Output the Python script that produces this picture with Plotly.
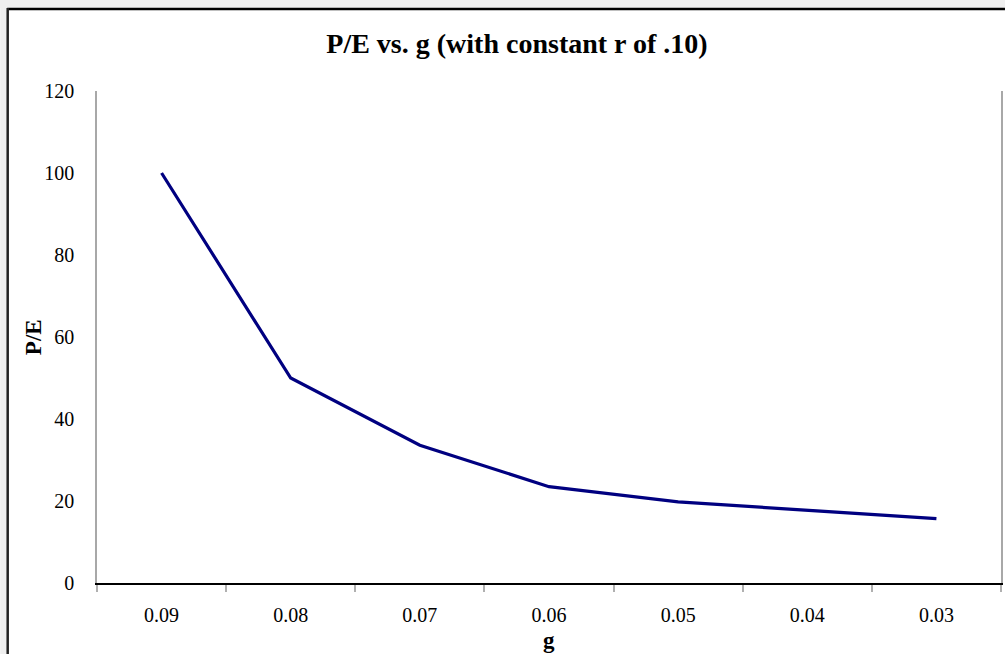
import plotly.graph_objects as go

# Data
g_labels = ["0.09", "0.08", "0.07", "0.06", "0.05", "0.04", "0.03"]
pe_values = [100, 50, 33.6, 23.5, 19.8, 17.7, 15.7]
y_ticks = [0, 20, 40, 60, 80, 100, 120]

W, H = 1007, 654
L, R, T, B = 97, 4, 91, 71
pw = W - L - R
ph = H - T - B

def px_x(px):
    return (px - L) / pw

def px_y(py):
    return (H - B - py) / ph

SERIF = "Liberation Serif, Times New Roman, serif"

fig = go.Figure()
fig.add_trace(go.Scatter(
    x=g_labels, y=pe_values, mode="lines",
    line=dict(color="#000080", width=3.2),
    showlegend=False, hoverinfo="x+y",
))

shapes = [
    # light gray window strips (top and left)
    dict(type="rect", xref="paper", yref="paper", x0=px_x(0), x1=px_x(W), y0=px_y(0), y1=px_y(8),
         fillcolor="#efefef", line=dict(width=0), layer="below"),
    dict(type="rect", xref="paper", yref="paper", x0=px_x(0), x1=px_x(7), y0=px_y(0), y1=px_y(H),
         fillcolor="#efefef", line=dict(width=0), layer="below"),
    # black chart-area border, top and left
    dict(type="line", xref="paper", yref="paper", x0=px_x(7), x1=px_x(W), y0=px_y(9), y1=px_y(9),
         line=dict(color="#000000", width=2.5), layer="below"),
    dict(type="line", xref="paper", yref="paper", x0=px_x(7.5), x1=px_x(7.5), y0=px_y(8), y1=px_y(H),
         line=dict(color="#222222", width=2.5), layer="below"),
]

fig.update_layout(
    width=W, height=H,
    margin=dict(l=L, r=R, t=T, b=B, pad=0),
    paper_bgcolor="white", plot_bgcolor="white",
    font=dict(family=SERIF, color="#000000", size=20),
    title=dict(
        text="<b>P/E vs. g (with constant r of .10)</b>",
        font=dict(family=SERIF, size=28, color="#000000"),
        x=517 / W, xref="container", xanchor="center",
        y=1 - 43 / H, yref="container", yanchor="middle",
    ),
    xaxis=dict(
        type="category", range=[-0.5, len(g_labels) - 0.5],
        showline=True, linecolor="#000000", linewidth=1.5,
        ticks="outside", tickson="boundaries", ticklen=7, tickcolor="#b0b0b0", tickwidth=1.5,
        showgrid=False, zeroline=False,
        tickfont=dict(family=SERIF, size=20),
        ticklabelstandoff=13,
    ),
    yaxis=dict(
        range=[0, 120], tickvals=y_ticks,
        showline=True, linecolor="#a8a8a8", linewidth=1.5, mirror=True,
        ticks="", showgrid=False, zeroline=False,
        tickfont=dict(family=SERIF, size=20),
        ticklabelstandoff=17,
    ),
    shapes=shapes,
    annotations=[
        dict(text="<b>P/E</b>", xref="paper", yref="paper", x=px_x(33), y=px_y(337),
             textangle=-90, showarrow=False, xanchor="center", yanchor="middle",
             font=dict(family=SERIF, size=23, color="#000000")),
        dict(text="<b>g</b>", xref="paper", yref="paper", x=px_x(550), y=px_y(640),
             showarrow=False, xanchor="center", yanchor="middle",
             font=dict(family=SERIF, size=23, color="#000000")),
    ],
)

fig.write_html("out.html")
